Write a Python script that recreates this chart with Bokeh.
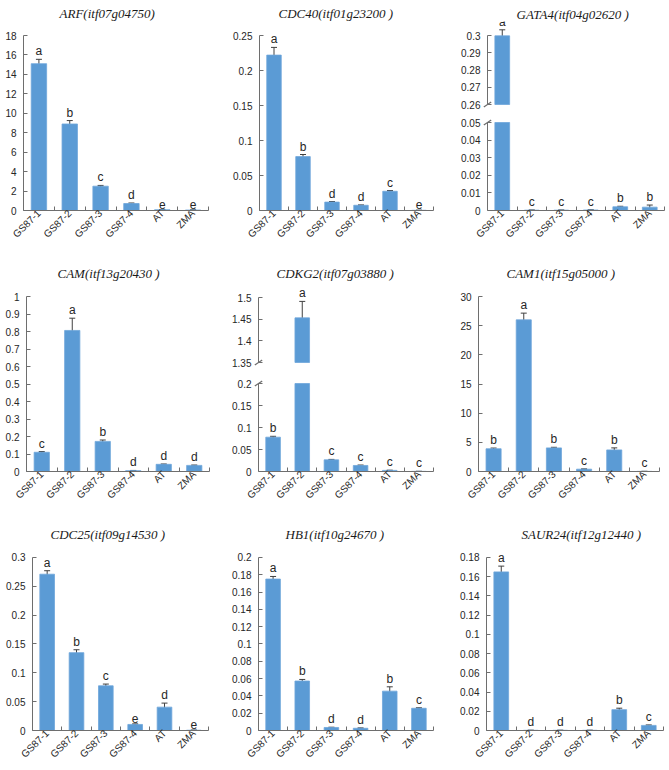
import math
from bokeh.plotting import figure
from bokeh.models import (Range1d, FixedTicker, CustomJSTickFormatter, ColumnDataSource,
                          Whisker, TeeHead, LabelSet, LinearAxis)
from bokeh.core.properties import value
from bokeh.layouts import row, column
from bokeh.embed import file_html
from bokeh.resources import INLINE

# ---------------- data ----------------
samples = ["GS87-1", "GS87-2", "GS87-3", "GS87-4", "AT", "ZMA"]

arf_mean = [15.1, 8.9, 2.5, 0.72, 0.08, 0.05]
arf_err = [0.45, 0.35, 0.08, 0.05, 0.01, 0.01]
arf_sig = ["a", "b", "c", "d", "e", "e"]
arf_ticks = [0, 2, 4, 6, 8, 10, 12, 14, 16, 18]

cdc40_mean = [0.222, 0.077, 0.012, 0.0075, 0.0275, 0.0003]
cdc40_err = [0.011, 0.003, 0.0008, 0.0005, 0.001, 0.0001]
cdc40_sig = ["a", "b", "d", "d", "c", "e"]
cdc40_ticks = [0, 0.05, 0.1, 0.15, 0.2, 0.25]

gata4_mean = [0.2998, 0.0002, 0.0002, 0.0003, 0.0021, 0.0019]
gata4_err = [0.0035, 0.0001, 0.0001, 0.0001, 0.0003, 0.0012]
gata4_sig = ["a", "c", "c", "c", "b", "b"]
gata4_ticks_hi = [0.26, 0.27, 0.28, 0.29, 0.3]
gata4_ticks_lo = [0, 0.01, 0.02, 0.03, 0.04, 0.05]

cam_mean = [0.11, 0.806, 0.172, 0.005, 0.041, 0.035]
cam_err = [0.004, 0.07, 0.008, 0.001, 0.002, 0.002]
cam_sig = ["c", "a", "b", "d", "d", "d"]
cam_ticks = [0, 0.1, 0.2, 0.3, 0.4, 0.5, 0.6, 0.7, 0.8, 0.9, 1]

cdkg2_mean = [0.078, 1.453, 0.0265, 0.0137, 0.0025, 0.0003]
cdkg2_err = [0.002, 0.038, 0.001, 0.001, 0.0005, 0.0001]
cdkg2_sig = ["b", "a", "c", "c", "c", "c"]
cdkg2_ticks_hi = [1.35, 1.4, 1.45, 1.5]
cdkg2_ticks_lo = [0, 0.05, 0.1, 0.15, 0.2]

cam1_mean = [3.9, 26.0, 4.05, 0.4, 3.7, 0.02]
cam1_err = [0.12, 1.15, 0.1, 0.05, 0.35, 0.01]
cam1_sig = ["b", "a", "b", "c", "b", "c"]
cam1_ticks = [0, 5, 10, 15, 20, 25, 30]

cdc25_mean = [0.271, 0.135, 0.0775, 0.0105, 0.0405, 0.0005]
cdc25_err = [0.006, 0.005, 0.003, 0.001, 0.007, 0.0002]
cdc25_sig = ["a", "b", "c", "e", "d", "e"]
cdc25_ticks = [0, 0.05, 0.1, 0.15, 0.2, 0.25, 0.3]

hb1_mean = [0.175, 0.0572, 0.0035, 0.0026, 0.0455, 0.0257]
hb1_err = [0.003, 0.0018, 0.0003, 0.0004, 0.005, 0.0006]
hb1_sig = ["a", "b", "d", "d", "b", "c"]
hb1_ticks = [0, 0.02, 0.04, 0.06, 0.08, 0.1, 0.12, 0.14, 0.16, 0.18, 0.2]

saur24_mean = [0.165, 0.0002, 0.0002, 0.0002, 0.0217, 0.0053]
saur24_err = [0.006, 0.0001, 0.0001, 0.0001, 0.0015, 0.0005]
saur24_sig = ["a", "d", "d", "d", "b", "c"]
saur24_ticks = [0, 0.02, 0.04, 0.06, 0.08, 0.1, 0.12, 0.14, 0.16, 0.18]

# ---------------- style ----------------
BAR = "#5B9BD5"
BAR_EDGE = "#6FA6DA"
AXIS = "#6E6E6E"
ERR = "#404040"
SANS = "Liberation Sans"
SERIF = "Liberation Serif"
LABEL_GAP = 7


def style_label_axis(a):
    a.major_label_text_font = SANS
    a.major_label_text_font_size = "10px"
    a.major_label_text_color = "#262626"


def panel(w, h, frame, axis, ticks, mean, err, sig, title=None, title_off=0,
          title_space=0, title_standoff=4, show_x=True, part="all"):
    """frame = (left, right, top, bottom) px inside the figure;
    axis = (axis_x, px of top tick, px of bottom tick)."""
    fl, fr, ft, fb = frame
    ax, y_hi_px, y_lo_px = axis
    lo, hi = ticks[0], ticks[-1]
    n = len(samples)
    ux = n / (fr - ax)
    k = (y_lo_px - y_hi_px) / (hi - lo)
    x_range = Range1d(-0.5 - (ax - fl) * ux, n - 0.5)
    y_range = Range1d(lo - (fb - y_lo_px) / k, hi + (y_hi_px - ft) / k)

    p = figure(width=w, height=h, output_backend="svg", toolbar_location=None,
               x_range=x_range, y_range=y_range,
               min_border_left=fl, min_border_right=w - fr, min_border_top=ft,
               min_border_bottom=h - fb)
    p.outline_line_color = None
    p.background_fill_color = "white"
    p.border_fill_color = "white"
    p.xgrid.visible = False
    p.ygrid.visible = False

    xs = list(range(n))
    if part == "upper":
        bi = [i for i in xs if mean[i] >= lo]
        p.vbar(x=[xs[i] for i in bi], top=[mean[i] for i in bi], bottom=lo, width=0.5,
               fill_color=BAR, line_color=BAR_EDGE, line_width=0.8)
        idx = bi
    elif part == "lower":
        p.vbar(x=xs, top=[min(m, hi) for m in mean], bottom=lo, width=0.5,
               fill_color=BAR, line_color=BAR_EDGE, line_width=0.8)
        idx = [i for i in xs if mean[i] <= hi]
    else:
        p.vbar(x=xs, top=mean, bottom=lo, width=0.5, fill_color=BAR,
               line_color=BAR_EDGE, line_width=0.8)
        idx = xs

    src = ColumnDataSource(dict(
        x=[xs[i] for i in idx],
        upper=[mean[i] + err[i] for i in idx],
        lower=[mean[i] - err[i] for i in idx],
        sig=[sig[i] for i in idx],
    ))
    p.add_layout(Whisker(base="x", upper="upper", lower="lower", source=src,
                         line_color=ERR, line_width=1,
                         upper_head=TeeHead(size=6, line_color=ERR, line_width=1),
                         lower_head=TeeHead(size=6, line_color=ERR, line_width=1)))
    p.add_layout(LabelSet(x="x", y="upper", text="sig", source=src, y_offset=1,
                          text_align="center", text_baseline="bottom",
                          text_font=value(SANS), text_font_size=value("12px"),
                          text_color="#262626"))

    # y axis (labels always from the axis in the left panel)
    ya = p.left[0]
    ya.ticker = FixedTicker(ticks=ticks)
    ya.formatter = CustomJSTickFormatter(code="return String(parseFloat(tick.toFixed(6)))")
    ya.bounds = (lo, hi)
    ya.minor_tick_in = 0
    ya.minor_tick_out = 0
    style_label_axis(ya)
    if ax != fl:
        # labels only here; the visible line and ticks sit at x = -0.5
        ya.axis_line_color = None
        ya.major_tick_line_color = None
        ya.major_tick_in = 0
        ya.major_tick_out = 0
        ya.major_label_standoff = max(LABEL_GAP - (ax - fl), 0)
        line_axis = LinearAxis(fixed_location=-0.5, ticker=FixedTicker(ticks=ticks),
                               bounds=(lo, hi), axis_line_color=AXIS,
                               major_tick_line_color=AXIS, major_tick_in=4,
                               major_tick_out=0, minor_tick_in=0, minor_tick_out=0,
                               major_label_standoff=0,
                               formatter=CustomJSTickFormatter(code="return ''"),
                               major_label_text_font_size="0px")
        p.add_layout(line_axis, "left")
    else:
        ya.axis_line_color = AXIS
        ya.major_tick_line_color = AXIS
        ya.major_tick_in = 4
        ya.major_tick_out = 0
        ya.major_label_standoff = LABEL_GAP

    xa = p.below[0]
    if show_x:
        xa.ticker = FixedTicker(ticks=xs, minor_ticks=[x - 0.5 for x in xs] + [xs[-1] + 0.5])
        xa.formatter = CustomJSTickFormatter(args=dict(labels=samples),
                                             code="return labels[Math.round(tick)]")
        xa.bounds = (-0.5, n - 0.5)
        xa.axis_line_color = AXIS
        xa.major_tick_in = 0
        xa.major_tick_out = 0
        xa.minor_tick_in = 4
        xa.minor_tick_out = 0
        xa.minor_tick_line_color = AXIS
        xa.major_label_orientation = math.pi / 4
        xa.major_label_standoff = 1
        style_label_axis(xa)
    else:
        xa.visible = False

    # axis break marks
    if part == "upper":
        p.scatter(x=[-0.5], y=[lo], marker="dash", size=9, angle=0.6,
                  line_color=AXIS, line_width=1.2)
    elif part == "lower":
        p.scatter(x=[-0.5], y=[hi], marker="dash", size=9, angle=0.6,
                  line_color=AXIS, line_width=1.2)

    if title:
        # room between title and frame: an invisible spacer axis + the title standoff
        if title_space > 0:
            p.add_layout(LinearAxis(ticker=FixedTicker(ticks=[(n - 1) / 2]),
                                    axis_line_color=None,
                                    major_tick_line_color=None, minor_tick_line_color=None,
                                    major_tick_in=0, major_tick_out=title_space,
                                    minor_tick_in=0, minor_tick_out=0,
                                    major_label_standoff=0,
                                    formatter=CustomJSTickFormatter(code="return ''"),
                                    major_label_text_font_size="0px"), "above")
        p.title.text = title
        p.title.align = "left"
        p.title.offset = title_off
        p.title.text_font = SERIF
        p.title.text_font_style = "italic"
        p.title.text_font_size = "13px"
        p.title.text_color = "#1a1a1a"
        p.title.standoff = title_standoff
    else:
        p.title.visible = False
    return p


# row 1
p1 = panel(223, 255, (23, 208, 35, 210), (23, 35, 210), arf_ticks, arf_mean, arf_err,
           arf_sig, title="ARF(itf07g04750)", title_off=36, title_space=13)
p2 = panel(223, 255, (36, 210, 35, 210), (36, 35, 210), cdc40_ticks, cdc40_mean,
           cdc40_err, cdc40_sig, title="CDC40(itf01g23200 )", title_off=19,
           title_space=13)
p3u = panel(219, 113, (35, 218, 21, 108), (41, 35, 104), gata4_ticks_hi, gata4_mean,
            gata4_err, gata4_sig, title="GATA4(itf04g02620 )", title_off=35,
            title_space=0, title_standoff=0, show_x=False, part="upper")
p3l = panel(219, 142, (35, 218, 5, 97), (41, 9, 97), gata4_ticks_lo, gata4_mean,
            gata4_err, gata4_sig, part="lower")

# row 2
p4 = panel(223, 255, (26, 209, 41, 216), (26, 41, 216), cam_ticks, cam_mean, cam_err,
           cam_sig, title="CAM(itf13g20430 )", title_off=31, title_space=14)
p5u = panel(223, 117, (29, 210, 33, 111), (35, 42, 107), cdkg2_ticks_hi, cdkg2_mean,
            cdkg2_err, cdkg2_sig, title="CDKG2(itf07g03880 )", title_off=24,
            title_space=6, show_x=False, part="upper")
p5l = panel(223, 138, (29, 210, 7, 99), (35, 11, 99), cdkg2_ticks_lo, cdkg2_mean,
            cdkg2_err, cdkg2_sig, part="lower")
p6 = panel(219, 255, (32, 213, 41, 216), (32, 41, 216), cam1_ticks, cam1_mean, cam1_err,
           cam1_sig, title="CAM1(itf15g05000 )", title_off=28, title_space=14)

# row 3
p7 = panel(223, 256, (32, 208, 40, 221), (32, 47, 221), cdc25_ticks, cdc25_mean,
           cdc25_err, cdc25_sig, title="CDC25(itf09g14530 )", title_off=18,
           title_space=7)
p8 = panel(223, 256, (35, 210, 40, 222), (35, 47, 222), hb1_ticks, hb1_mean, hb1_err,
           hb1_sig, title="HB1(itf10g24670 )", title_off=27, title_space=7)
p9 = panel(219, 256, (40, 217, 40, 221), (40, 47, 221), saur24_ticks, saur24_mean,
           saur24_err, saur24_sig, title="SAUR24(itf12g12440 )", title_off=35,
           title_space=7)

layout = column(
    row(p1, p2, column(p3u, p3l, spacing=0), spacing=0),
    row(p4, column(p5u, p5l, spacing=0), p6, spacing=0),
    row(p7, p8, p9, spacing=0),
    spacing=0,
)

open("out.html", "w").write(file_html(layout, INLINE))
